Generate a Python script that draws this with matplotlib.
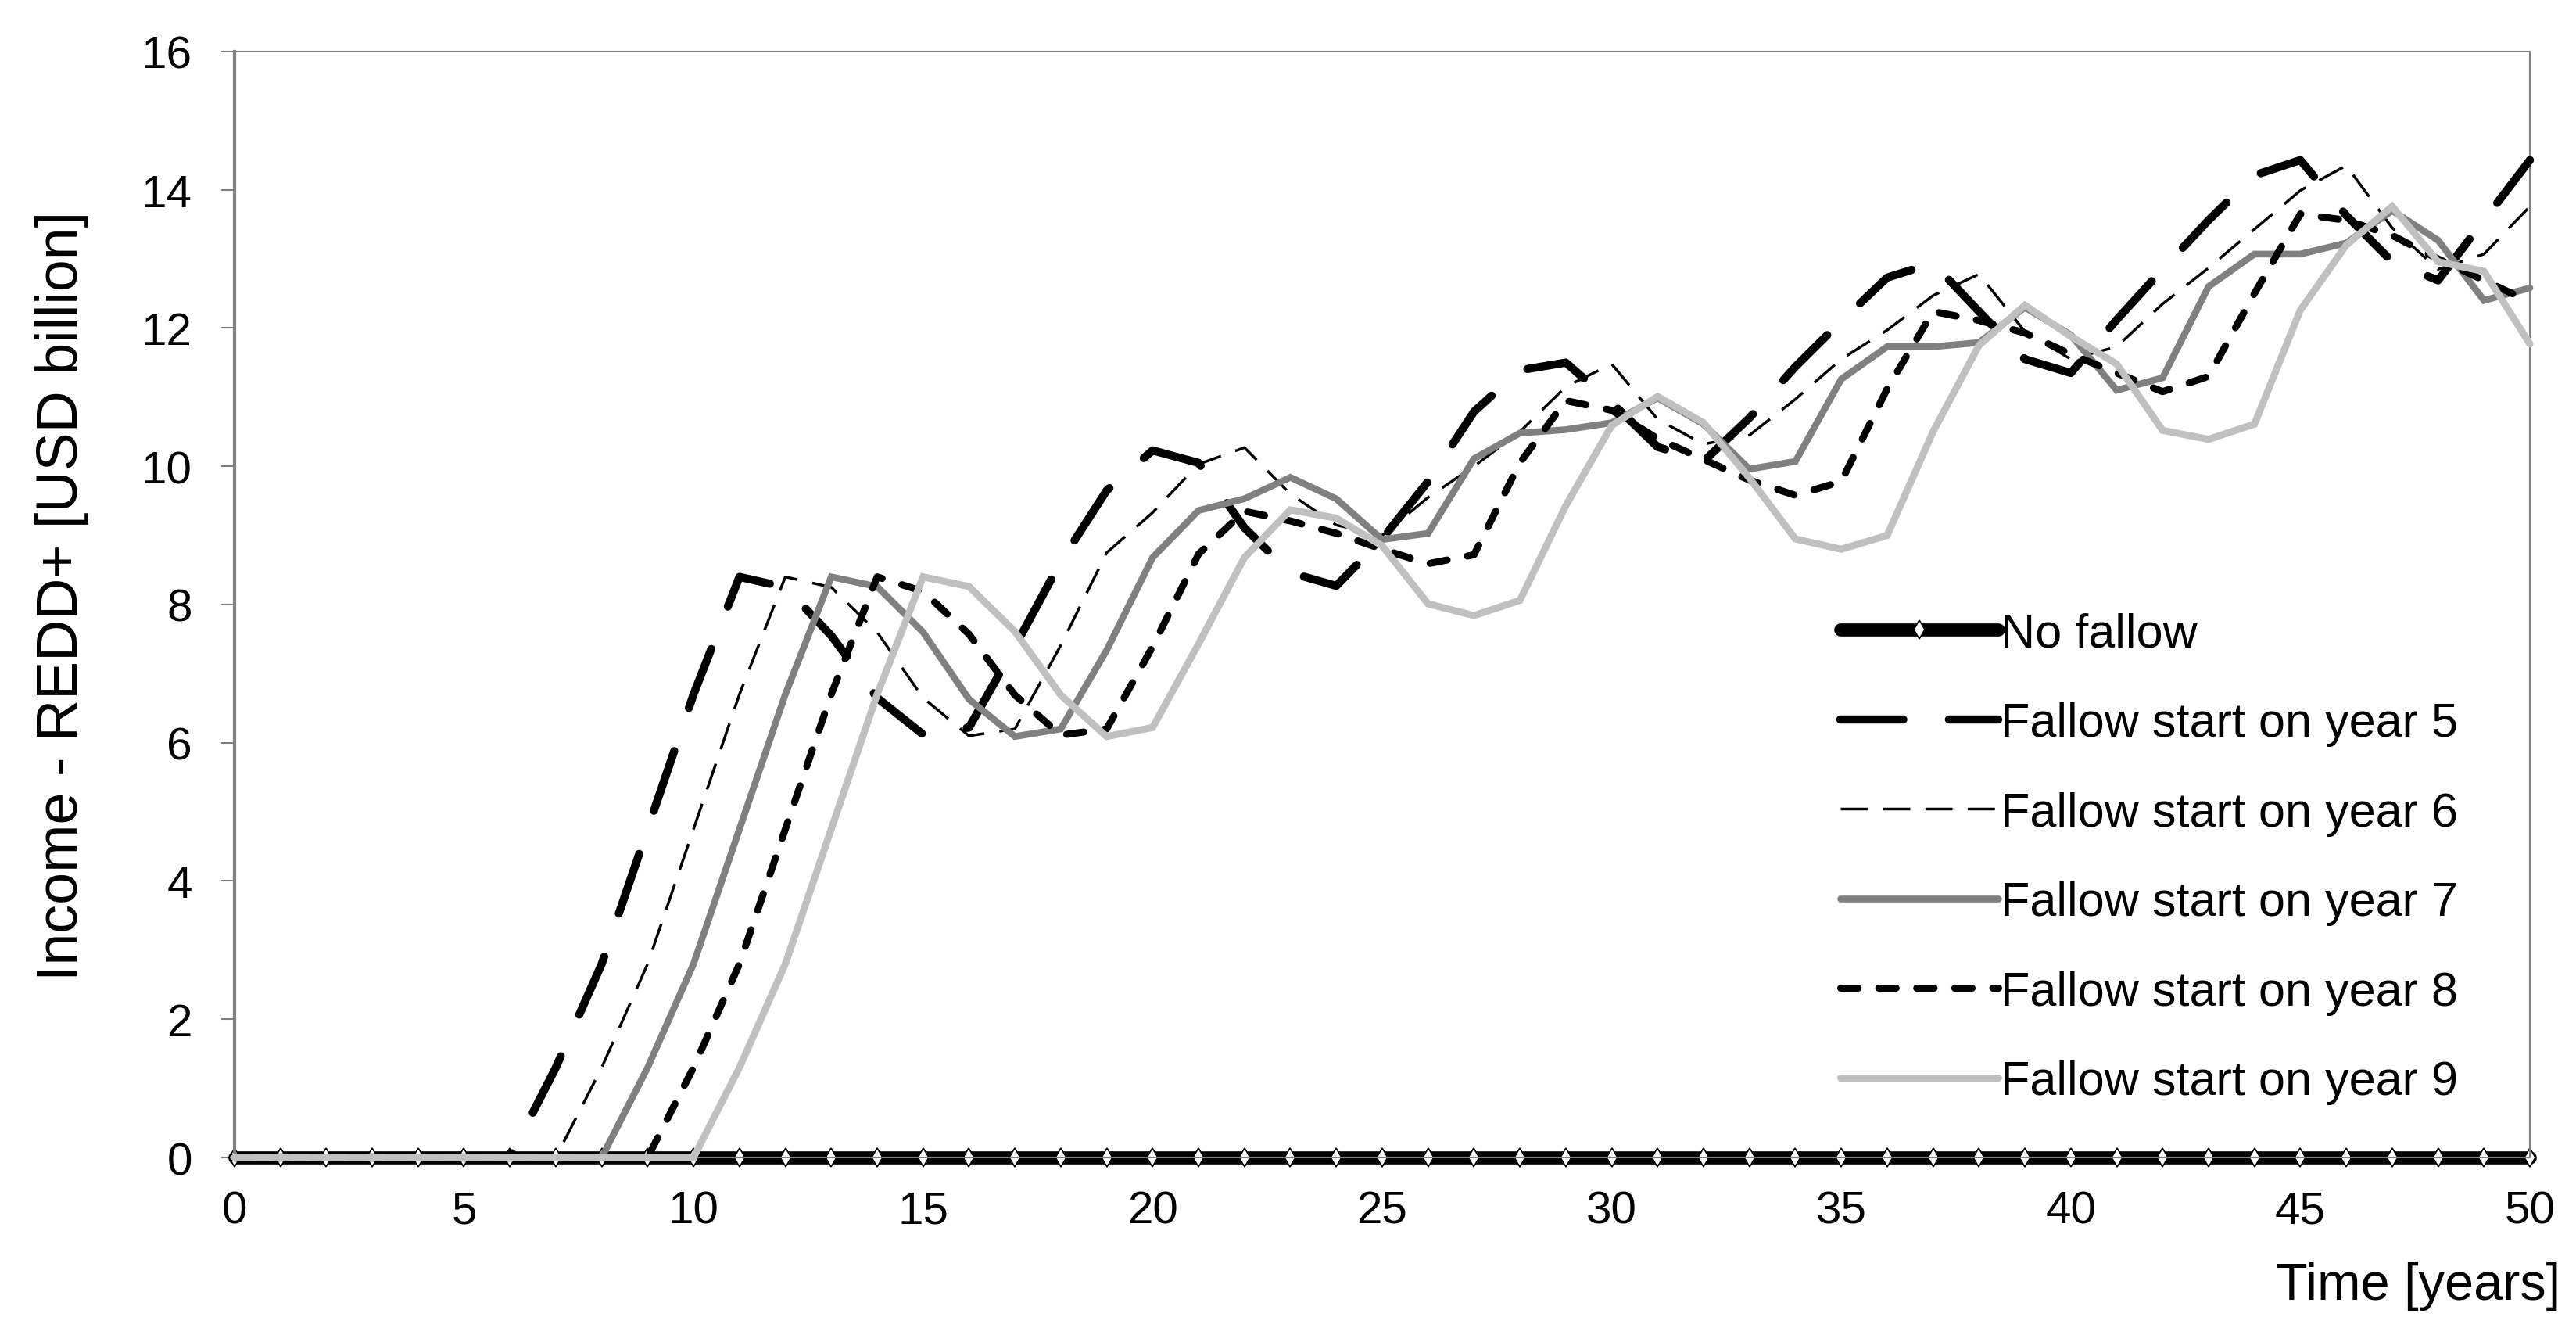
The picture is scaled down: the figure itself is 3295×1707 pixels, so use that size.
import matplotlib
matplotlib.use("Agg")
import matplotlib.pyplot as plt
import numpy as np

plt.rcParams['font.family'] = ['Liberation Sans', 'DejaVu Sans']
plt.rcParams['lines.scale_dashes'] = False

years = list(range(0, 51))
no_fallow = [0.0] * 51
fallow5 = [0, 0, 0, 0, 0, 0, 0,
           1.3, 2.8, 4.75, 6.7, 8.4,
           8.25, 7.55, 6.65, 6.12, 6.22,
           7.39, 8.62, 9.65, 10.23, 10.05,
           9.11, 8.46, 8.27, 8.95, 9.78,
           10.79, 11.39, 11.5, 10.92, 10.28,
           10.07, 10.7, 11.44, 12.1, 12.73,
           12.94, 12.24, 11.55, 11.35, 12.12,
           12.85, 13.56, 14.21, 14.43, 13.63,
           12.96, 12.69, 13.56, 14.43]
fallow6 = [0, 0, 0, 0, 0, 0, 0, 0,
           1.3, 2.8, 4.75, 6.7, 8.4,
           8.25, 7.6, 6.65, 6.1, 6.2,
           7.41, 8.75, 9.33, 10.03, 10.27,
           9.6, 9.15, 9.0, 9.55, 10.0,
           10.5, 11.15, 11.48, 10.68, 10.32,
           10.45, 10.97, 11.55, 11.97, 12.47,
           12.78, 11.95, 11.55, 11.73, 12.35,
           12.87, 13.43, 13.99, 14.35, 13.45,
           12.85, 13.07, 13.76]
fallow7 = [0, 0, 0, 0, 0, 0, 0, 0, 0,
           1.3, 2.8, 4.75, 6.7, 8.4,
           8.26, 7.6, 6.63, 6.09, 6.2,
           7.34, 8.68, 9.36, 9.53, 9.84,
           9.53, 8.94, 9.03, 10.11, 10.48,
           10.53, 10.63, 10.99, 10.61, 9.96,
           10.07, 11.26, 11.73, 11.73, 11.79,
           12.3, 11.9, 11.1, 11.28, 12.6,
           13.07, 13.07, 13.23, 13.7, 13.27,
           12.4, 12.58]
fallow8 = [0, 0, 0, 0, 0, 0, 0, 0, 0, 0,
           1.3, 2.8, 4.75, 6.7, 8.4,
           8.19, 7.57, 6.69, 6.11, 6.2,
           7.39, 8.73, 9.35, 9.21, 9.03,
           8.8, 8.59, 8.72, 10.05, 10.95,
           10.81, 10.4, 10.1, 9.8, 9.58,
           9.78, 11.12, 12.24, 12.11, 11.93,
           11.62, 11.35, 11.08, 11.3, 12.5,
           13.65, 13.56, 13.34, 13.0, 12.69,
           12.38]
fallow9 = [0, 0, 0, 0, 0, 0, 0, 0, 0, 0, 0,
           1.3, 2.8, 4.75, 6.7, 8.4,
           8.26, 7.61, 6.69, 6.09, 6.22,
           7.43, 8.68, 9.37, 9.25, 8.85,
           8.01, 7.84, 8.06, 9.43, 10.59,
           11.01, 10.63, 9.83, 8.95, 8.8,
           9.0, 10.5, 11.75, 12.33, 11.88,
           11.48, 10.52, 10.39, 10.61, 12.26,
           13.2, 13.76, 12.96, 12.82, 11.77]

labels = ["No fallow", "Fallow start on year 5", "Fallow start on year 6",
          "Fallow start on year 7", "Fallow start on year 8", "Fallow start on year 9"]

fig = plt.figure(figsize=(32.95, 17.08), dpi=100)
ax = fig.add_axes([0.0910, 0.1329, 0.8911, 0.8279])

ax.plot(years, no_fallow, color='black', lw=12, marker='d', ms=12, mfc='white',
        mec='black', mew=1.2, solid_capstyle='round', clip_on=False, zorder=2, label=labels[0])
ax.plot(years, fallow5, color='black', lw=7.5, dashes=(58, 42), dash_capstyle='round',
        clip_on=False, zorder=3, label=labels[1])
ax.plot(years, fallow6, color='black', lw=2.5, dashes=(25, 14), dash_capstyle='butt',
        clip_on=False, zorder=4, label=labels[2])
ax.plot(years, fallow7, color='#808080', lw=6.2, solid_joinstyle='miter',
        solid_capstyle='round', clip_on=False, zorder=5, label=labels[3])
ax.plot(years, fallow8, color='black', lw=6.5, dashes=(16, 19), dash_capstyle='round',
        clip_on=False, zorder=6, label=labels[4])
ax.plot(years, fallow9, color='#c0c0c0', lw=6.5, solid_joinstyle='miter',
        solid_capstyle='round', clip_on=False, zorder=7, label=labels[5])

ax.set_xlim(0, 50)
ax.set_ylim(0, 16)
ax.set_xticks(range(0, 51, 5))
ax.set_xticks(range(0, 51, 1), minor=True)
ax.set_yticks(range(0, 17, 2))

for s in ['top', 'right', 'bottom']:
    ax.spines[s].set_color('#808080')
    ax.spines[s].set_linewidth(1.5)
ax.spines['left'].set_color('#808080')
ax.spines['left'].set_linewidth(3)

ax.tick_params(axis='y', which='major', direction='out', length=12, width=1.5,
               color='#808080', pad=27, labelsize=42)
ax.tick_params(axis='x', which='both', direction='inout', length=16, width=1.5,
               color='#808080', pad=22, labelsize=42)

fig.text(0.024, 0.554, "Income - REDD+ [USD billion]", rotation=90,
         ha='center', va='center', fontsize=53)
fig.text(0.994, 0.037, "Time [years]", ha='right', va='center', fontsize=48)

leg = ax.legend(loc='upper left', bbox_to_anchor=(0.6996, 0.493), frameon=False,
                fontsize=44, handlelength=3.3, handletextpad=0.05, labelspacing=0.94,
                borderpad=0, borderaxespad=0, numpoints=1)

fig.savefig("out.png", dpi=100)
